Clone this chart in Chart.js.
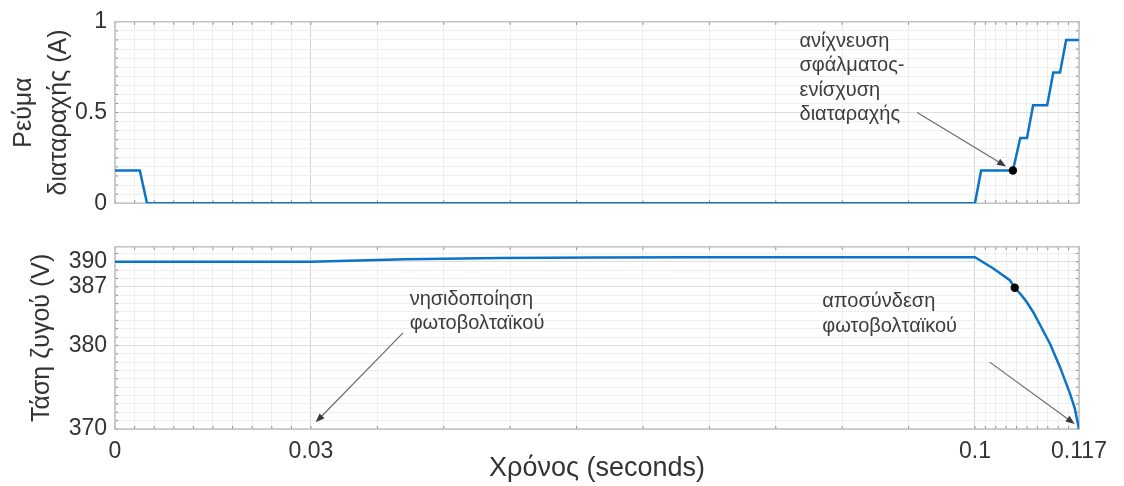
<!DOCTYPE html>
<html>
<head>
<meta charset="utf-8">
<script src="https://cdn.jsdelivr.net/npm/chart.js@4"></script>
<style>
  body { margin: 0; background: #fff; }
  #wrap { position: relative; width: 1124px; height: 486px; }
  .box { position: absolute; left: 0; width: 1124px; }
  #top { top: 0; height: 225px; }
  #bot { top: 225px; height: 261px; }
</style>
</head>
<body>
<div id="wrap">
  <div class="box" id="top"><canvas id="currentChart"></canvas></div>
  <div class="box" id="bot"><canvas id="voltageChart"></canvas></div>
</div>
<script>
// the time axis of the figure is stretched in three pieces: 0-0.03, 0.03-0.1, 0.1-0.117
const timeBreaks = [0, 0.03, 0.1, 0.117];
const timeBreakPos = [0, 0.2033, 0.8921, 1]; // share of the plot width at each break
const timeLabels = ['0', '0.03', '0.1', '0.117'];

const currentTime = [0, 0.0038, 0.0049, 0.1, 0.101, 0.1062, 0.1074, 0.1085, 0.1095, 0.1118, 0.1128, 0.1139, 0.1149, 0.117];
const currentValues = [0.18, 0.18, 0, 0, 0.18, 0.18, 0.36, 0.36, 0.54, 0.54, 0.72, 0.72, 0.9, 0.9];
const currentTicks = [0, 0.5, 1];

const voltageTime = [0, 0.03, 0.035, 0.04, 0.05, 0.06, 0.07, 0.1, 0.103, 0.1057, 0.1065, 0.1075, 0.1084, 0.1095, 0.1106, 0.1123, 0.1139, 0.1155, 0.1163, 0.117];
const voltageValues = [390, 390, 390.15, 390.3, 390.45, 390.52, 390.55, 390.55, 389.2, 387.8, 386.9, 386.1, 385.25, 384, 382.5, 380.15, 377.4, 374.3, 372.5, 370];
const voltageTicks = [370, 380, 387, 390];

const currentNotes = [
  { text: ['ανίχνευση', 'σφάλματος-', 'ενίσχυση', 'διαταραχής'], at: [0.0815, 0.892],
    arrow: [[0.0939, 0.5], [0.1062, 0.18]], gap: 8, dot: [0.1062, 0.18] }
];
const voltageNotes = [
  { text: ['νησιδοποίηση', 'φωτοβολταϊκού'], at: [0.0404, 385.5],
    arrow: [[0.0397, 381.5], [0.0305, 370.8]], gap: 0 },
  { text: ['αποσύνδεση', 'φωτοβολταϊκού'], at: [0.0839, 385.2],
    arrow: [[0.1024, 378], [0.1163, 370.6]], gap: 0, dot: [0.1065, 386.9] }
];

const blue = '#0b74c9';
const font = '"Liberation Sans", Arial, sans-serif';
const textColor = '#333';

class PiecewiseScale extends Chart.LinearScale {
  getPixelForValue(value) {
    let i = 0;
    while (i < timeBreaks.length - 2 && value > timeBreaks[i + 1]) i++;
    const a = timeBreaks[i], b = timeBreaks[i + 1];
    const d = timeBreakPos[i] + (value - a) / (b - a) * (timeBreakPos[i + 1] - timeBreakPos[i]);
    return this.getPixelForDecimal(d);
  }
  getValueForPixel(pixel) {
    const d = this.getDecimalForPixel(pixel);
    let i = 0;
    while (i < timeBreakPos.length - 2 && d > timeBreakPos[i + 1]) i++;
    const a = timeBreakPos[i], b = timeBreakPos[i + 1];
    return timeBreaks[i] + (d - a) / (b - a) * (timeBreaks[i + 1] - timeBreaks[i]);
  }
}
PiecewiseScale.id = 'piecewise';
PiecewiseScale.defaults = Chart.LinearScale.defaults;
Chart.register(PiecewiseScale);

function timeGrid() {
  const v = [];
  for (let s = 0; s < timeBreaks.length - 1; s++) {
    const step = (timeBreaks[s + 1] - timeBreaks[s]) / 10;
    for (let k = 0; k < 10; k++) v.push(timeBreaks[s] + k * step);
  }
  v.push(timeBreaks[timeBreaks.length - 1]);
  return v.map(value => ({ value }));
}
const isBreak = v => timeBreaks.some(b => Math.abs(b - v) < 1e-9);

function drawArrow(ctx, from, to, gap) {
  const dx = to[0] - from[0], dy = to[1] - from[1];
  const len = Math.hypot(dx, dy);
  const ux = dx / len, uy = dy / len;
  const tx = to[0] - ux * gap, ty = to[1] - uy * gap;
  ctx.strokeStyle = '#6b6b6b';
  ctx.fillStyle = '#3a3a3a';
  ctx.lineWidth = 1.2;
  ctx.beginPath();
  ctx.moveTo(from[0], from[1]);
  ctx.lineTo(tx - ux * 6, ty - uy * 6);
  ctx.stroke();
  ctx.beginPath();
  ctx.moveTo(tx, ty);
  ctx.lineTo(tx - ux * 9 - uy * 3.5, ty - uy * 9 + ux * 3.5);
  ctx.lineTo(tx - ux * 9 + uy * 3.5, ty - uy * 9 - ux * 3.5);
  ctx.closePath();
  ctx.fill();
}

function notesPlugin(items) {
  return {
    id: 'notes',
    afterDatasetsDraw(chart) {
      const { ctx, scales: { x, y } } = chart;
      const px = p => [x.getPixelForValue(p[0]), y.getPixelForValue(p[1])];
      ctx.save();
      items.forEach(n => {
        ctx.font = '20px ' + font;
        ctx.fillStyle = '#3c3c3c';
        ctx.textAlign = 'left';
        ctx.textBaseline = 'middle';
        const [tx, ty] = px(n.at);
        n.text.forEach((line, i) => ctx.fillText(line, tx, ty + i * 24.5));
        if (n.arrow) drawArrow(ctx, px(n.arrow[0]), px(n.arrow[1]), n.gap);
        if (n.dot) {
          const [cx, cy] = px(n.dot);
          ctx.beginPath();
          ctx.arc(cx, cy, 4.2, 0, Math.PI * 2);
          ctx.fillStyle = '#000';
          ctx.fill();
        }
      });
      ctx.restore();
    }
  };
}

// box around the plot with small inward tick marks, like the original figure
const framePlugin = {
  id: 'frame',
  beforeDatasetsDraw(chart) {
    const { ctx, chartArea: a, scales: { x, y } } = chart;
    ctx.save();
    ctx.strokeStyle = '#8a8a8a';
    ctx.lineWidth = 1;
    ctx.beginPath();
    x.ticks.forEach(t => {
      const p = x.getPixelForValue(t.value);
      ctx.moveTo(p, a.top); ctx.lineTo(p, a.top + 3);
      ctx.moveTo(p, a.bottom); ctx.lineTo(p, a.bottom - 3);
    });
    y.ticks.forEach(t => {
      const p = y.getPixelForValue(t.value);
      ctx.moveTo(a.left, p); ctx.lineTo(a.left + 3, p);
      ctx.moveTo(a.right, p); ctx.lineTo(a.right - 3, p);
    });
    ctx.stroke();
    ctx.strokeStyle = '#c2c2c2';
    ctx.lineWidth = 1.5;
    ctx.strokeRect(a.left, a.top, a.right - a.left, a.bottom - a.top);
    ctx.restore();
  }
};

function points(xs, ys) {
  return xs.map((t, i) => ({ x: t, y: ys[i] }));
}

function timeAxis(showLabels, height) {
  return {
    type: 'piecewise',
    min: 0,
    max: 0.117,
    afterBuildTicks: s => { s.ticks = timeGrid(); },
    afterFit: s => { s.height = height; },
    border: { display: false },
    grid: {
      drawTicks: false,
      color: c => isBreak(c.tick.value) ? '#d4d4d4' : '#efefef',
      lineWidth: 1
    },
    ticks: {
      display: showLabels,
      autoSkip: false,
      maxRotation: 0,
      padding: 9,
      color: textColor,
      font: { family: font, size: 23 },
      callback: v => {
        const i = timeBreaks.findIndex(b => Math.abs(b - v) < 1e-9);
        return i >= 0 ? timeLabels[i] : '';
      }
    },
    title: {
      display: showLabels,
      text: 'Χρόνος (seconds)',
      color: textColor,
      font: { family: font, size: 27 },
      padding: { top: 0, bottom: 1 }
    }
  };
}

function valueAxis(min, max, step, labels, title, titlePad) {
  const count = Math.round((max - min) / step);
  return {
    min, max,
    afterBuildTicks: s => {
      const t = [];
      for (let k = 0; k <= count; k++) t.push({ value: Math.round((min + k * step) * 1000) / 1000 });
      s.ticks = t;
    },
    afterFit: s => { s.width = 115; },
    border: { display: false },
    grid: {
      drawTicks: false,
      color: c => labels.includes(c.tick.value) ? '#dedede' : '#efefef',
      lineWidth: 1
    },
    ticks: {
      autoSkip: false,
      padding: 8,
      color: textColor,
      font: { family: font, size: 23 },
      callback: v => labels.includes(v) ? String(v) : ''
    },
    title: {
      display: true,
      text: title,
      color: textColor,
      font: { family: font, size: 25, lineHeight: 1.4 },
      padding: { top: titlePad, bottom: 0 }
    }
  };
}

function baseOptions(padTop) {
  return {
    responsive: true,
    maintainAspectRatio: false,
    animation: false,
    layout: { padding: { top: padTop, right: 45, left: 0, bottom: 0 } },
    plugins: { legend: { display: false }, tooltip: { enabled: false } }
  };
}

const currentOpts = baseOptions(20);
currentOpts.scales = {
  x: timeAxis(false, 17),
  y: valueAxis(0, 1, 0.05, currentTicks, ['Ρεύμα', 'διαταραχής (A)'], 7)
};
new Chart(document.getElementById('currentChart'), {
  type: 'line',
  data: {
    datasets: [{
      data: points(currentTime, currentValues),
      borderColor: blue,
      borderWidth: 2.5,
      pointRadius: 0,
      tension: 0
    }]
  },
  options: currentOpts,
  plugins: [framePlugin, notesPlugin(currentNotes)]
});

const voltageOpts = baseOptions(18);
voltageOpts.scales = {
  x: timeAxis(true, 57),
  y: valueAxis(370, 391.8, 1, voltageTicks, 'Τάση ζυγού (V)', 25)
};
voltageOpts.scales.y.afterBuildTicks = s => {
  const t = [];
  for (let v = 370; v <= 391; v++) t.push({ value: v });
  s.ticks = t;
};
new Chart(document.getElementById('voltageChart'), {
  type: 'line',
  data: {
    datasets: [{
      data: points(voltageTime, voltageValues),
      borderColor: blue,
      borderWidth: 2.5,
      pointRadius: 0,
      tension: 0
    }]
  },
  options: voltageOpts,
  plugins: [framePlugin, notesPlugin(voltageNotes)]
});
</script>
</body>
</html>
